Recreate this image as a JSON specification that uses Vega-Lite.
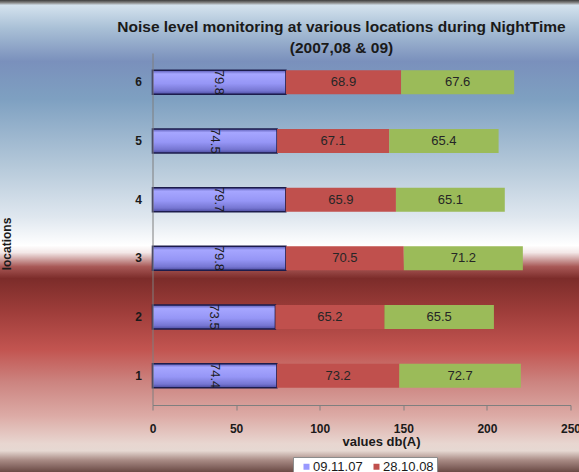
{
  "$schema": "https://vega.github.io/schema/vega-lite/v6.json",
  "width": 418,
  "height": 352,
  "autosize": {"type": "none"},
  "padding": {"left": 152.5, "top": 53, "right": 8.5, "bottom": 67},
  "background": "#ffffff",
  "config": {
    "font": "Liberation Sans",
    "view": {"stroke": null}
  },
  "title": {
    "text": ["Noise level monitoring at various locations during NightTime", "(2007,08 & 09)"],
    "font": "Liberation Sans",
    "fontSize": 15.5,
    "fontWeight": "bold",
    "color": "#1a1a1a",
    "lineHeight": 21,
    "anchor": "middle",
    "frame": "group",
    "dx": -20,
    "dy": 71,
    "offset": 0,
    "baseline": "bottom",
    "zindex": 1
  },
  "datasets": {
    "noise": [
      {"loc": 1, "series": "09.11.07", "year": 2007, "value": 74.4},
      {"loc": 1, "series": "28.10.08", "year": 2008, "value": 73.2},
      {"loc": 1, "series": "2009", "year": 2009, "value": 72.7},
      {"loc": 2, "series": "09.11.07", "year": 2007, "value": 73.5},
      {"loc": 2, "series": "28.10.08", "year": 2008, "value": 65.2},
      {"loc": 2, "series": "2009", "year": 2009, "value": 65.5},
      {"loc": 3, "series": "09.11.07", "year": 2007, "value": 79.8},
      {"loc": 3, "series": "28.10.08", "year": 2008, "value": 70.5},
      {"loc": 3, "series": "2009", "year": 2009, "value": 71.2},
      {"loc": 4, "series": "09.11.07", "year": 2007, "value": 79.7},
      {"loc": 4, "series": "28.10.08", "year": 2008, "value": 65.9},
      {"loc": 4, "series": "2009", "year": 2009, "value": 65.1},
      {"loc": 5, "series": "09.11.07", "year": 2007, "value": 74.5},
      {"loc": 5, "series": "28.10.08", "year": 2008, "value": 67.1},
      {"loc": 5, "series": "2009", "year": 2009, "value": 65.4},
      {"loc": 6, "series": "09.11.07", "year": 2007, "value": 79.8},
      {"loc": 6, "series": "28.10.08", "year": 2008, "value": 68.9},
      {"loc": 6, "series": "2009", "year": 2009, "value": 67.6}
    ]
  },
  "layer": [
    {
      "description": "Slide-style backdrop behind the whole chart",
      "data": {"values": [{}]},
      "mark": {
        "type": "rect",
        "fill": {
          "gradient": "linear",
          "x1": 0, "y1": 0, "x2": 0, "y2": 1,
          "stops": [
            {"offset": 0, "color": "#3c3c3c"},
            {"offset": 0.006, "color": "#8a8a8a"},
            {"offset": 0.011, "color": "#d4e2ee"},
            {"offset": 0.06, "color": "#a9c0d6"},
            {"offset": 0.13, "color": "#7a90bc"},
            {"offset": 0.21, "color": "#7ea0c1"},
            {"offset": 0.35, "color": "#b4c8d9"},
            {"offset": 0.46, "color": "#dfe7ef"},
            {"offset": 0.52, "color": "#ffffff"},
            {"offset": 0.535, "color": "#f3e8e8"},
            {"offset": 0.565, "color": "#a85856"},
            {"offset": 0.59, "color": "#7c2c2a"},
            {"offset": 0.66, "color": "#9e3d3a"},
            {"offset": 0.74, "color": "#c25450"},
            {"offset": 0.81, "color": "#cc8480"},
            {"offset": 0.88, "color": "#dcaaa5"},
            {"offset": 0.94, "color": "#e8d6d0"},
            {"offset": 0.955, "color": "#e6d8d2"},
            {"offset": 0.975, "color": "#a88a84"},
            {"offset": 1, "color": "#6a4a45"}
          ]
        }
      },
      "encoding": {
        "x": {"value": -152.5},
        "x2": {"value": 426.5},
        "y": {"value": -53},
        "y2": {"value": 419}
      }
    },
    {
      "data": {"name": "noise"},
      "transform": [
        {"stack": "value", "groupby": ["loc"], "sort": [{"field": "year", "order": "ascending"}], "as": ["v0", "v1"]}
      ],
      "mark": {"type": "bar", "strokeWidth": 1.5},
      "encoding": {
        "y": {
          "field": "loc",
          "type": "ordinal",
          "sort": "descending",
          "scale": {"paddingInner": 0.59, "paddingOuter": 0.295},
          "axis": {
            "zindex": 1,
            "title": "locations",
            "titleFontSize": 12,
            "titleFontWeight": "bold",
            "titleColor": "#1a1a1a",
            "titleX": -146.5,
            "titleY": 190.5,
            "titleBaseline": "middle",
            "titleAngle": -90,
            "labelFontSize": 12,
            "labelFontWeight": "bold",
            "labelColor": "#1a1a1a",
            "labelPadding": 11,
            "labelAngle": 0,
            "ticks": false,
            "domainColor": "#7f7f7f",
            "grid": false
          }
        },
        "x": {
          "field": "v0",
          "type": "quantitative",
          "scale": {"domain": [0, 250], "nice": false},
          "axis": {
            "zindex": 1,
            "title": "values db(A)",
            "titleFontSize": 13,
            "titleFontWeight": "bold",
            "titleColor": "#1a1a1a",
            "titleX": 228.5,
            "titleY": 36,
            "titleBaseline": "middle",
            "values": [0, 50, 100, 150, 200, 250],
            "labelFontSize": 12,
            "labelFontWeight": "bold",
            "labelColor": "#1a1a1a",
            "labelPadding": 13,
            "labelFlush": false,
            "labelOverlap": false,
            "tickSize": 5,
            "tickColor": "#7f7f7f",
            "domainColor": "#7f7f7f",
            "grid": false
          }
        },
        "x2": {"field": "v1"},
        "color": {
          "condition": {
            "test": "datum.year === 2007",
            "value": {
              "gradient": "linear",
              "x1": 0, "y1": 0, "x2": 0, "y2": 1,
              "stops": [
                {"offset": 0, "color": "#5a5ab4"},
                {"offset": 0.15, "color": "#a6a6ff"},
                {"offset": 0.55, "color": "#9696f6"},
                {"offset": 0.85, "color": "#7676d2"},
                {"offset": 1, "color": "#4c4ca0"}
              ]
            }
          },
          "field": "series",
          "type": "nominal",
          "scale": {"domain": ["09.11.07", "28.10.08", "2009"], "range": ["#9999ff", "#c0504d", "#9bbb59"]},
          "legend": {
            "title": null,
            "orient": "none",
            "legendX": 140.5,
            "legendY": 404,
            "direction": "horizontal",
            "columns": 2,
            "fillColor": "#ffffff",
            "strokeColor": "#8c8c8c",
            "padding": 3,
            "symbolType": "square",
            "symbolSize": 36,
            "symbolOffset": 4,
            "symbolStrokeWidth": 1,
            "labelFontSize": 13,
            "labelColor": "#1a1a1a",
            "labelOffset": 0,
            "columnPadding": 3,
            "rowPadding": 6,
            "zindex": 1,
            "encode": {
              "symbols": {
                "update": {
                  "stroke": {"signal": "datum.value === '09.11.07' ? '#1c1c4c' : 'transparent'"}
                }
              }
            }
          }
        },
        "stroke": {
          "condition": {"test": "datum.year === 2007", "value": "#1c1c4c"},
          "value": null
        }
      }
    },
    {
      "data": {"name": "noise"},
      "transform": [
        {"stack": "value", "groupby": ["loc"], "sort": [{"field": "year", "order": "ascending"}], "as": ["v0", "v1"]},
        {"calculate": "(datum.v0 + datum.v1) / 2", "as": "mid"},
        {"filter": "datum.year !== 2007"}
      ],
      "mark": {"type": "text", "fontSize": 13, "color": "#262626", "align": "center", "baseline": "middle"},
      "encoding": {
        "y": {"field": "loc", "type": "ordinal", "sort": "descending"},
        "x": {"field": "mid", "type": "quantitative"},
        "text": {"field": "value", "type": "quantitative", "format": ".1f"}
      }
    },
    {
      "data": {"name": "noise"},
      "transform": [
        {"stack": "value", "groupby": ["loc"], "sort": [{"field": "year", "order": "ascending"}], "as": ["v0", "v1"]},
        {"calculate": "(datum.v0 + datum.v1) / 2", "as": "mid"},
        {"filter": "datum.year === 2007"}
      ],
      "mark": {"type": "text", "fontSize": 13, "color": "#1a1a1a", "align": "center", "baseline": "middle", "angle": 90},
      "encoding": {
        "y": {"field": "loc", "type": "ordinal", "sort": "descending"},
        "x": {"field": "mid", "type": "quantitative"},
        "text": {"field": "value", "type": "quantitative", "format": ".1f"}
      }
    }
  ]
}
